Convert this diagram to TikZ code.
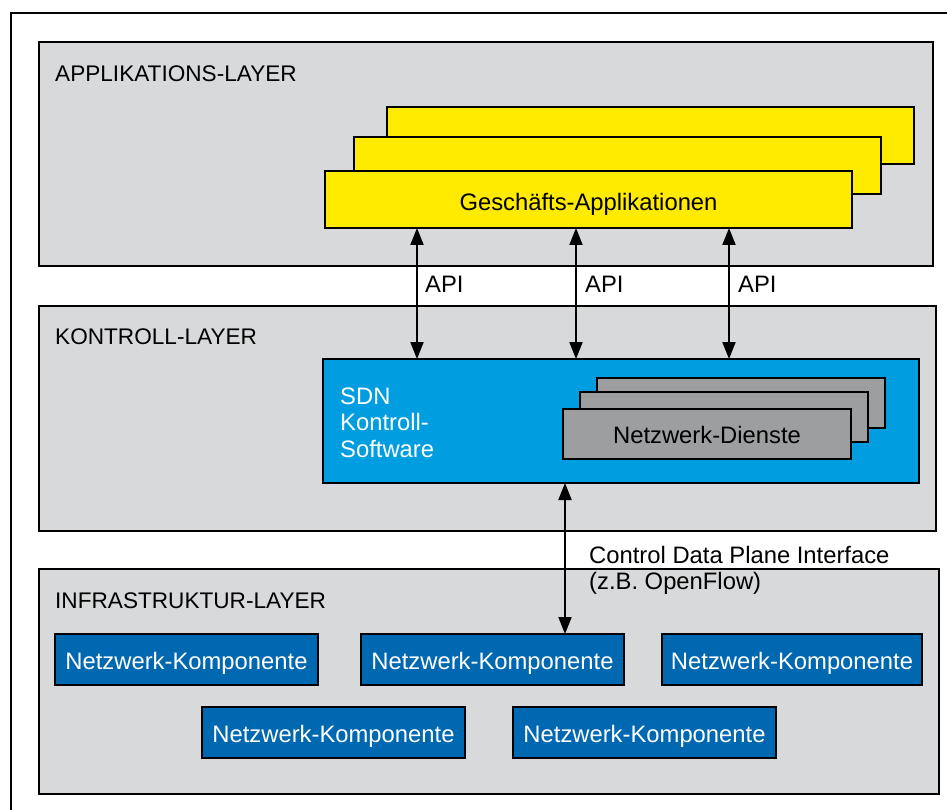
\documentclass[tikz,border=0pt]{standalone}
\usepackage{fontspec}
\setmainfont{Liberation Sans}
\usetikzlibrary{arrows.meta, positioning}
\definecolor{hgrau}{HTML}{D8D9DB}
\definecolor{gelb}{HTML}{FFEB00}
\definecolor{hblau}{HTML}{009EE0}
\definecolor{dgrau}{HTML}{9D9EA0}
\definecolor{dblau}{HTML}{0067B1}
\tikzset{
  kasten/.style={rectangle, draw=black, fill=#1, line width=2.2pt, anchor=north west,
                 inner sep=0pt, outer sep=0pt},
  schicht/.style={kasten=hgrau},
  applik/.style={kasten=gelb, minimum width=527pt, minimum height=57pt},
  dienst/.style={kasten=dgrau, minimum width=288pt, minimum height=50pt},
  komp/.style={kasten=dblau, text=white, minimum width=263pt, minimum height=51pt,
               text height=19pt, text depth=0pt},
  titel/.style={anchor=base west, inner sep=0pt, font=\fontsize{22.6}{26}\selectfont},
  beschr/.style={anchor=base west, inner sep=0pt},
  pfeil/.style={{Triangle[length=17pt, width=13pt]}-{Triangle[length=17pt, width=13pt]},
                line width=2pt, draw=black},
}

\begin{document}
\begin{tikzpicture}[x=1pt, y=-1pt, font=\fontsize{23.8}{26.5}\selectfont]
    \clip (0,0) rectangle (947,810);
    \fill[white] (0,0) rectangle (947,810);
    \node[kasten=white, minimum width=1000pt, minimum height=900pt] (rahmen) at (11,13) {};

    % Applikations-Layer
    \node[schicht, minimum width=894pt, minimum height=224pt] (app) at (39,42) {};
    \node[titel] (apptitel) at (55,82) {APPLIKATIONS-LAYER};
    \node[applik] (gapp3) at (387,107) {};
    \node[applik] (gapp2) at (354,137) {};
    \node[applik, text height=23pt, text depth=0pt] (gapp) at (325,171) {Geschäfts-Applikationen};

    % Kontroll-Layer
    \node[schicht, minimum width=897pt, minimum height=225pt] (kontr) at (39,306) {};
    \node[titel] (kontrtitel) at (55,344) {KONTROLL-LAYER};
    \node[kasten=hblau, minimum width=596pt, minimum height=124pt] (sdn) at (323,359) {};
    \node[anchor=north west, inner sep=0pt, align=left, text=white] (sdntext) at (340,387.5)
        {SDN\\Kontroll-\\Software};
    \node[dienst] (dienst3) at (597,378) {};
    \node[dienst] (dienst2) at (580,392) {};
    \node[dienst, text height=18pt, text depth=0pt] (dienst) at (563,409) {Netzwerk-Dienste};

    % Infrastruktur-Layer
    \node[schicht, minimum width=900pt, minimum height=225pt] (infra) at (39,569) {};
    \node[titel] (infratitel) at (55,608) {INFRASTRUKTUR-LAYER};
    \node[komp] (komp1) at (55,634) {Netzwerk-Komponente};
    \node[komp] (komp2) at (361,634) {Netzwerk-Komponente};
    \node[komp, minimum width=260pt] (komp3) at (662,634) {Netzwerk-Komponente};
    \node[komp] (komp4) at (202,707) {Netzwerk-Komponente};
    \node[komp] (komp5) at (513,707) {Netzwerk-Komponente};

    % Schnittstellen
    \coordinate (api1) at (417,0);
    \coordinate (api2) at (576,0);
    \coordinate (api3) at (729,0);
    \coordinate (cdpi) at (565,0);
    \draw[pfeil] (gapp.south -| api1) -- (sdn.north -| api1);
    \draw[pfeil] (gapp.south -| api2) -- (sdn.north -| api2);
    \draw[pfeil] (gapp.south -| api3) -- (sdn.north -| api3);
    \draw[pfeil] (sdn.south -| cdpi) -- (komp2.north -| cdpi);
    \node[beschr] (api1text) at (425,292) {API};
    \node[beschr] (api2text) at (585,292) {API};
    \node[beschr] (api3text) at (738,292) {API};
    \node[anchor=north west, inner sep=0pt, align=left] (cdpitext) at (589,546)
        {Control Data Plane Interface\\(z.B. OpenFlow)};
\end{tikzpicture}
\end{document}
